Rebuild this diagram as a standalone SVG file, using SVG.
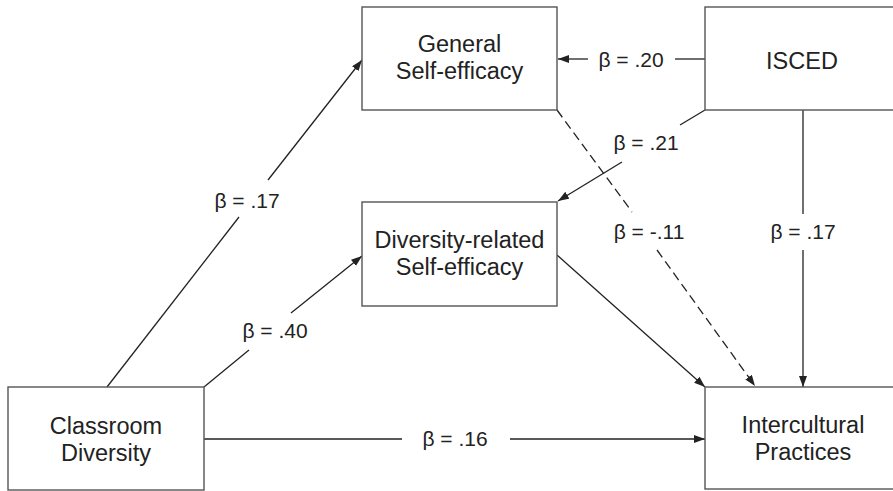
<svg xmlns="http://www.w3.org/2000/svg" width="893" height="491" viewBox="0 0 893 491">
<defs>
<marker id="ah" markerUnits="userSpaceOnUse" markerWidth="12" markerHeight="10" refX="11" refY="4" orient="auto">
<path d="M0,0 L11,4 L0,8 Z" fill="#222"/>
</marker>
<style>
.box{fill:#fff;stroke:#555;stroke-width:1.4}
.t{font-family:"Liberation Sans",Arial,sans-serif;font-size:23.5px;fill:#222;text-anchor:middle}
.l{font-family:"Liberation Sans",Arial,sans-serif;font-size:21px;fill:#222;text-anchor:middle}
.c{stroke:#222;stroke-width:1.3;fill:none}
.a{marker-end:url(#ah)}
.d{stroke-dasharray:9,5}
</style>
</defs>
<rect width="893" height="491" fill="#fff"/>
<g id="connectors">
<line class="c" x1="107" y1="387" x2="239" y2="217"/>
<line class="c a" x1="268" y1="180" x2="362" y2="60"/>
<line class="c" x1="204" y1="387" x2="249" y2="350"/>
<line class="c a" x1="291" y1="313" x2="362" y2="256"/>
<line class="c" x1="204" y1="439" x2="402" y2="439"/>
<line class="c a" x1="510" y1="439" x2="705" y2="439"/>
<line class="c" x1="705" y1="59" x2="675" y2="59"/>
<line class="c a" x1="588" y1="59" x2="558" y2="59"/>
<line class="c" x1="705" y1="110" x2="680" y2="125"/>
<line class="c a" x1="622" y1="162" x2="558" y2="201"/>
<line class="c d" x1="557" y1="110" x2="632" y2="212"/>
<line class="c d a" x1="657" y1="250" x2="755" y2="386"/>
<line class="c" x1="803" y1="110" x2="803" y2="214"/>
<line class="c a" x1="803" y1="250" x2="803" y2="387"/>
<line class="c a" x1="557" y1="255" x2="705" y2="387"/>
<text class="l" x="247" y="208">β = .17</text>
<text class="l" x="275" y="338">β = .40</text>
<text class="l" x="455" y="446">β = .16</text>
<text class="l" x="631" y="67">β = .20</text>
<text class="l" x="646" y="150">β = .21</text>
<text class="l" x="649" y="239">β = -.11</text>
<text class="l" x="803" y="239">β = .17</text>
</g>
<g id="general">
<rect class="box" x="362" y="7" width="195" height="103"/>
<text class="t" x="459.5" y="52">General</text>
<text class="t" x="459.5" y="79">Self-efficacy</text>
</g>
<g id="isced">
<rect class="box" x="705" y="7" width="196" height="103"/>
<text class="t" x="802" y="69">ISCED</text>
</g>
<g id="diversity">
<rect class="box" x="362" y="202" width="195" height="104"/>
<text class="t" x="459.5" y="248">Diversity-related</text>
<text class="t" x="459.5" y="275">Self-efficacy</text>
</g>
<g id="classroom">
<rect class="box" x="8" y="387" width="196" height="103"/>
<text class="t" x="106" y="434">Classroom</text>
<text class="t" x="106" y="461">Diversity</text>
</g>
<g id="intercultural">
<rect class="box" x="705" y="387" width="196" height="102"/>
<text class="t" x="803" y="433">Intercultural</text>
<text class="t" x="803" y="460">Practices</text>
</g>
</svg>
